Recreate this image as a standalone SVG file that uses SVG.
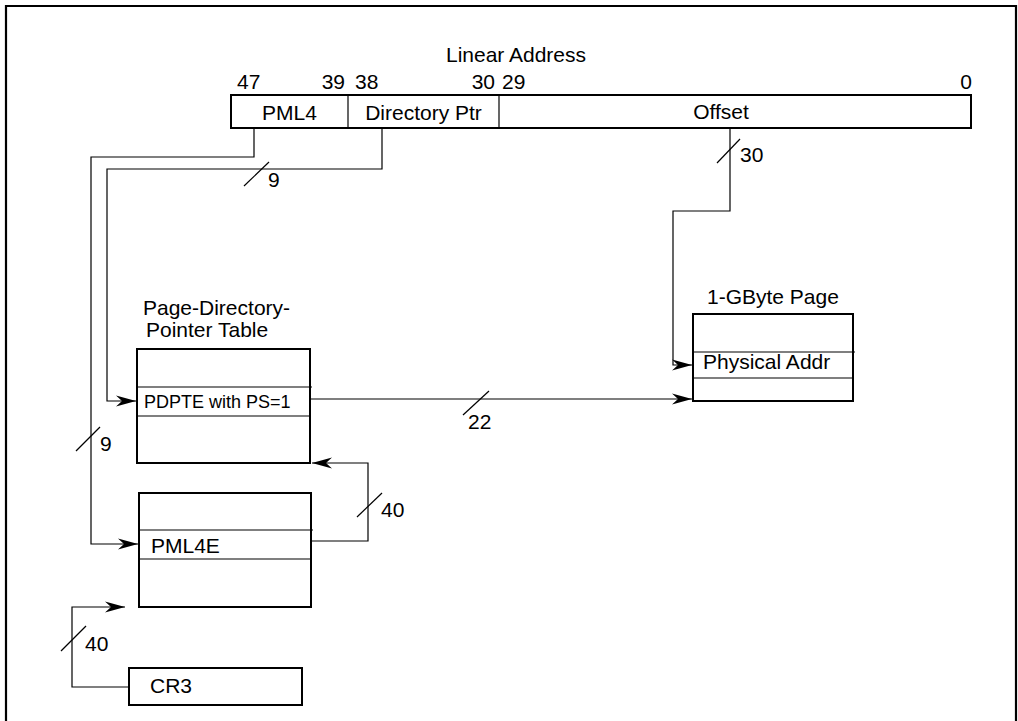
<svg xmlns="http://www.w3.org/2000/svg" width="1018" height="721" viewBox="0 0 1018 721">
<style>
text{font-family:"Liberation Sans",Arial,Helvetica,sans-serif;font-size:21px;fill:#000}
.sm{font-size:18px}
.box{fill:#fff;stroke:#000;stroke-width:2}
.row{fill:none;stroke:#000;stroke-width:1.2}
.wire{fill:none;stroke:#000;stroke-width:1.2}
.slash{fill:none;stroke:#000;stroke-width:1.2}
</style>
<defs>
<marker id="arr" markerUnits="userSpaceOnUse" markerWidth="24" markerHeight="14" viewBox="-21 -7 22 14" refX="0" refY="0" orient="auto">
<path d="M0,0 L-20,-5.5 L-14,0 L-20,5.5 Z" fill="#000"/>
</marker>
</defs>
<rect width="1018" height="721" fill="#fff"/>
<path d="M6,721 V6 H1016 V721" fill="none" stroke="#000" stroke-width="2.2"/>

<g id="linear-address">
<text x="516" y="62" text-anchor="middle">Linear Address</text>
<text x="237" y="89">47</text>
<text x="345" y="89" text-anchor="end">39</text>
<text x="355" y="89">38</text>
<text x="495" y="89" text-anchor="end">30</text>
<text x="502" y="89">29</text>
<text x="972" y="89" text-anchor="end">0</text>
<rect class="box" x="231" y="95" width="740" height="33"/>
<line class="row" x1="348" y1="95" x2="348" y2="128"/>
<line class="row" x1="499" y1="95" x2="499" y2="128"/>
<text x="289.5" y="120" text-anchor="middle">PML4</text>
<text x="423.5" y="120" text-anchor="middle">Directory Ptr</text>
<text x="721" y="119" text-anchor="middle">Offset</text>
</g>

<g id="pdpt">
<text x="143" y="315">Page-Directory-</text>
<text x="146" y="337">Pointer Table</text>
<rect class="box" x="137" y="349" width="173" height="114"/>
<line class="row" x1="137" y1="387" x2="312" y2="387"/>
<line class="row" x1="137" y1="416" x2="310" y2="416"/>
<text class="sm" x="144" y="408">PDPTE with PS=1</text>
</g>

<g id="pml4">
<rect class="box" x="139" y="493" width="172" height="114"/>
<line class="row" x1="139" y1="530" x2="313" y2="530"/>
<line class="row" x1="139" y1="559" x2="311" y2="559"/>
<text x="151" y="553">PML4E</text>
</g>

<g id="page">
<text x="707" y="304">1-GByte Page</text>
<rect class="box" x="693" y="314" width="160" height="87"/>
<line class="row" x1="693" y1="352" x2="855" y2="352"/>
<line class="row" x1="693" y1="378" x2="853" y2="378"/>
<text x="703" y="369">Physical Addr</text>
</g>

<g id="cr3">
<rect class="box" x="129" y="668" width="173" height="37"/>
<text x="150" y="693">CR3</text>
</g>

<g id="connectors">
<path class="wire" d="M254,129 V157 H91 V544 H138" marker-end="url(#arr)"/>
<path class="wire" d="M382,129 V169 H107 V401 H136" marker-end="url(#arr)"/>
<path class="wire" d="M730,129 V211 H673 V365 H692" marker-end="url(#arr)"/>
<path class="wire" d="M311,399 H692" marker-end="url(#arr)"/>
<path class="wire" d="M312,541 H368 V463 H312" marker-end="url(#arr)"/>
<path class="wire" d="M129,687 H72 V607 H125" marker-end="url(#arr)"/>
<line class="slash" x1="244" y1="186" x2="269" y2="162"/>
<text x="268" y="187">9</text>
<line class="slash" x1="76" y1="451" x2="100" y2="427"/>
<text x="100" y="451">9</text>
<line class="slash" x1="357" y1="517" x2="382" y2="493"/>
<text x="381" y="517">40</text>
<line class="slash" x1="61" y1="651" x2="86" y2="626"/>
<text x="85" y="651">40</text>
<line class="slash" x1="717" y1="163" x2="740" y2="139"/>
<text x="740" y="162">30</text>
<line class="slash" x1="463" y1="415" x2="489" y2="391"/>
<text x="468" y="429">22</text>
</g>
</svg>
